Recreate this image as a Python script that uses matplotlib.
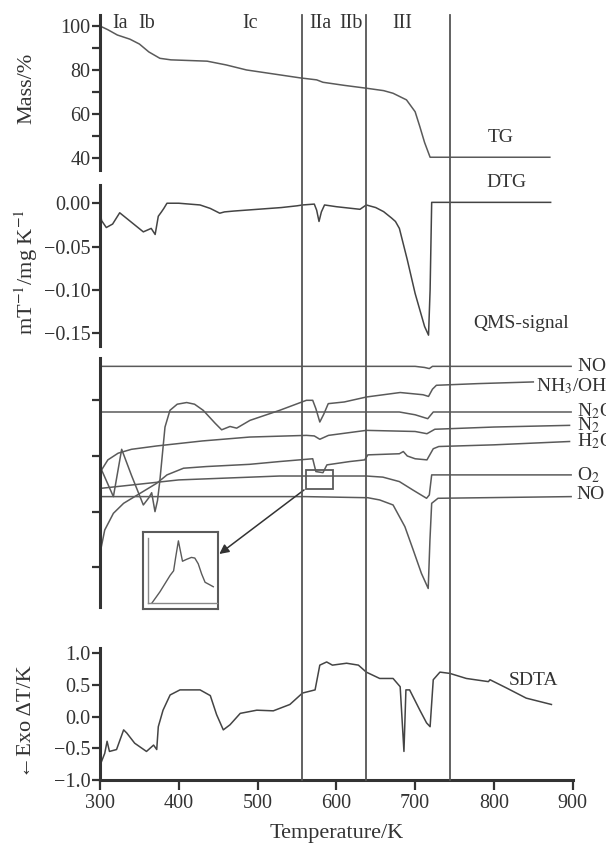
import matplotlib
matplotlib.use("Agg")
import matplotlib.pyplot as plt
from matplotlib.lines import Line2D
from matplotlib.patches import Rectangle
from matplotlib.transforms import blended_transform_factory

plt.rcParams['font.family'] = ['Liberation Serif', 'DejaVu Serif']
plt.rcParams['mathtext.fontset'] = 'stix'

# ---- data ------------------------------------------------------------------
tg_T = [300, 310, 322, 338, 350, 362, 376, 390, 436, 460, 486, 520, 554, 575,
        583, 610, 638, 660, 672, 689, 700, 706, 712, 719, 871]
tg_mass = [100, 98.3, 95.9, 94.0, 91.8, 88.2, 85.3, 84.6, 84.0, 82.3, 80.0,
           78.2, 76.4, 75.5, 74.4, 73.0, 71.7, 70.6, 69.4, 66.4, 61.0, 54.2,
           47.0, 40.3, 40.3]

dtg_T = [300, 302, 308, 316, 325, 340, 355, 365, 370, 374, 378, 381, 385, 400,
         427, 440, 452, 458, 470, 500, 530, 550, 557, 572, 575, 578, 581, 585,
         600, 630, 638, 650, 660, 670, 675, 680, 690, 700, 712, 717, 719, 721,
         872]
dtg = [-0.008, -0.020, -0.028, -0.024, -0.011, -0.022, -0.033, -0.029, -0.036,
       -0.015, -0.010, -0.006, 0.000, 0.000, -0.002, -0.006, -0.0115, -0.010,
       -0.009, -0.007, -0.005, -0.003, -0.002, -0.001, -0.008, -0.021, -0.010,
       -0.002, -0.004, -0.007, -0.002, -0.005, -0.0097, -0.017, -0.021, -0.029,
       -0.065, -0.104, -0.142, -0.152, -0.10, 0.001, 0.001]

# QMS signals (arbitrary units)
no2_T = [300, 700, 712, 718, 722, 898]
no2 = [4.61, 4.61, 4.59, 4.57, 4.61, 4.61]

nh3_T = [302, 317, 327.5, 340, 355, 362, 365.6, 369.8, 373, 376, 382.5, 388.8,
         398, 410, 420, 431, 446, 454.4, 465, 473.5, 490.4, 528, 562, 570, 574,
         579, 584, 589.7, 610, 638.4, 681, 710, 717, 722, 727, 780, 850]
nh3 = [2.75, 2.27, 3.12, 2.65, 2.12, 2.25, 2.34, 2.0, 2.2, 2.56, 3.52, 3.82,
       3.93, 3.96, 3.93, 3.82, 3.59, 3.47, 3.53, 3.50, 3.64, 3.82, 4.0, 4.0,
       3.85, 3.61, 3.75, 3.94, 3.97, 4.06, 4.14, 4.10, 4.07, 4.2, 4.27, 4.30,
       4.33]

n2o_T = [300, 680, 700, 716, 723, 898]
n2o = [3.79, 3.79, 3.74, 3.67, 3.79, 3.79]

n2_T = [302, 310, 323, 340, 372, 430, 490, 562, 572, 579, 590, 638, 700, 715,
        725, 800, 896]
n2 = [2.75, 2.93, 3.05, 3.12, 3.18, 3.27, 3.34, 3.37, 3.36, 3.30, 3.37, 3.46,
      3.44, 3.40, 3.48, 3.52, 3.55]

h2o_T = [300, 306, 317, 330, 351, 372, 385, 406, 435, 490, 528, 570, 574, 583,
         588, 617, 636, 640, 680, 685, 690, 700, 715, 723, 730, 800, 896]
h2o = [1.25, 1.67, 1.97, 2.15, 2.33, 2.51, 2.66, 2.78, 2.81, 2.85, 2.90, 2.95,
       2.72, 2.70, 2.84, 2.90, 2.93, 3.02, 3.04, 3.08, 3.00, 2.95, 2.93, 3.13,
       3.17, 3.20, 3.26]

o2_T = [302, 400, 528, 638, 659, 680, 697, 714.5, 718, 721, 898]
o2 = [2.42, 2.57, 2.64, 2.64, 2.62, 2.54, 2.39, 2.24, 2.30, 2.66, 2.66]

no_T = [300, 560, 640, 655, 672, 687, 697.6, 708, 716.6, 718.8, 721, 729, 898]
no = [2.27, 2.27, 2.25, 2.21, 2.12, 1.73, 1.31, 0.89, 0.62, 1.49, 2.15, 2.24,
      2.27]

qms_names = ['NO$_2$', 'NH$_3$/OH', 'N$_2$O', 'N$_2$', 'H$_2$O', 'O$_2$', 'NO']
qms_label_v = [4.61, 4.26, 3.80, 3.55, 3.26, 2.66, 2.30]

# zoomed detail (inset), relative units
ins_x = [0.05, 0.17, 0.32, 0.37, 0.40, 0.44, 0.46, 0.50, 0.56, 0.63, 0.68,
         0.73, 0.78, 0.83, 0.90, 0.95]
ins_y = [0.0, 0.18, 0.44, 0.51, 0.72, 0.98, 0.87, 0.66, 0.69, 0.72, 0.71,
         0.62, 0.46, 0.33, 0.29, 0.26]

sdta_T = [300, 306, 309, 312, 321, 330, 334, 344, 359, 368, 372, 374, 380,
          389, 401.5, 427, 440, 448, 456.5, 465, 478, 499, 520, 541, 557, 573,
          579, 587.7, 595, 613, 628, 638, 655, 672, 681, 685.8, 688.3, 693,
          706, 714.5, 719, 723, 731.5, 744, 765, 793, 795, 816, 841, 873]
sdta = [-0.77, -0.58, -0.39, -0.55, -0.52, -0.21, -0.26, -0.42, -0.55, -0.45,
        -0.52, -0.16, 0.10, 0.34, 0.42, 0.42, 0.33, 0.03, -0.21, -0.13, 0.05,
        0.10, 0.09, 0.19, 0.37, 0.42, 0.81, 0.86, 0.81, 0.84, 0.81, 0.70, 0.60,
        0.60, 0.47, -0.55, 0.42, 0.42, 0.10, -0.10, -0.16, 0.58, 0.70, 0.68,
        0.60, 0.55, 0.58, 0.45, 0.29, 0.19]

stage_T = [557, 638, 744]
stage_names = ['Ia', 'Ib', 'Ic', 'IIa', 'IIb', 'III']
stage_name_T = [326, 359, 491, 580, 618, 684]

# ---- layout -----------------------------------------------------------------
W, H = 606, 844
LINE = '#5a5a5a'
DARK = '#333333'


def rect(x0, y0, x1, y1):
    return [x0 / W, 1 - y1 / H, (x1 - x0) / W, (y1 - y0) / H]


fig = plt.figure(figsize=(W / 100, H / 100), dpi=100)
ax_tg = fig.add_axes(rect(100, 15, 572.7, 170))
ax_dtg = fig.add_axes(rect(100, 185, 572.7, 346))
ax_qms = fig.add_axes(rect(100, 358, 572.7, 607))
ax_sdta = fig.add_axes(rect(100, 648, 572.7, 780))

for ax in (ax_tg, ax_dtg, ax_qms, ax_sdta):
    ax.set_xlim(300, 900)
    ax.patch.set_visible(False)
    for s in ('top', 'right'):
        ax.spines[s].set_visible(False)
    ax.spines['left'].set_linewidth(2.2)
    ax.spines['left'].set_color(DARK)
    ax.tick_params(axis='y', which='major', direction='out', length=6,
                   width=1.6, color=DARK, labelsize=14.5, labelcolor=DARK,
                   pad=1)
    ax.tick_params(axis='y', which='minor', direction='out', length=6,
                   width=1.6, color=DARK)
for ax in (ax_tg, ax_dtg, ax_qms):
    ax.spines['bottom'].set_visible(False)
    ax.set_xticks([])

# TG
ax_tg.plot(tg_T, tg_mass, color=LINE, lw=1.1)
ax_tg.set_ylim(34.5, 105)
ax_tg.set_yticks([40, 60, 80, 100])
ax_tg.set_yticks([50, 70, 90], minor=True)
ax_tg.text(808, 47.4, 'TG', ha='center', va='baseline', fontsize=14,
           color=DARK)
for name, t in zip(stage_names, stage_name_T):
    ax_tg.text(t, 99.0, name, ha='center', va='baseline', fontsize=14.5,
               color=DARK)

# DTG
ax_dtg.plot(dtg_T, dtg, color='#444444', lw=1.1)
ax_dtg.set_ylim(-0.1645, 0.021)
ax_dtg.set_yticks([0.0, -0.05, -0.10, -0.15])
ax_dtg.set_yticklabels(['0.00', '\u22120.05', '\u22120.10', '\u22120.15'])
ax_dtg.text(816, 0.0192, 'DTG', ha='center', va='baseline', fontsize=14,
            color=DARK, clip_on=False)
ax_dtg.text(835, -0.144, 'QMS-signal', ha='center', va='baseline',
            fontsize=14, color=DARK, clip_on=False)

# QMS
series = [(no2_T, no2), (nh3_T, nh3), (n2o_T, n2o), (n2_T, n2),
          (h2o_T, h2o), (o2_T, o2), (no_T, no)]
for t, v in series:
    ax_qms.plot(t, v, color=LINE, lw=1.1)
ax_qms.set_ylim(0.287, 4.76)
ax_qms.set_yticks([1, 2, 3, 4])
ax_qms.set_yticklabels([])
for i, (name, v) in enumerate(zip(qms_names, qms_label_v)):
    x = 853 if i == 1 else 905
    ax_qms.text(x, v, name, ha='left', va='center', fontsize=14,
                color=DARK, clip_on=False)

# box marking the zoomed region and arrow to the inset
ax_qms.add_patch(Rectangle((562, 2.41), 34, 0.34, fill=False,
                           edgecolor=LINE, lw=1.3))
ax_qms.annotate('', xy=(219.3 / W, 1 - 554 / H), xycoords='figure fraction',
                xytext=(559, 2.39), textcoords='data',
                arrowprops=dict(arrowstyle='-|>', color='#333333', lw=1.1,
                                mutation_scale=14, shrinkA=0, shrinkB=0))

ax_box = fig.add_axes(rect(142.7, 532.3, 218.3, 609.3))
ax_box.set_xticks([])
ax_box.set_yticks([])
for s in ax_box.spines.values():
    s.set_color(LINE)
    s.set_linewidth(1.5)
ax_ins = fig.add_axes(rect(148.3, 538.3, 216.7, 603.3))
ax_ins.patch.set_visible(False)
ax_ins.plot(ins_x, ins_y, color=LINE, lw=1.0)
ax_ins.set_xlim(0, 1)
ax_ins.set_ylim(0, 1.02)
ax_ins.set_xticks([])
ax_ins.set_yticks([])
for s in ('top', 'right'):
    ax_ins.spines[s].set_visible(False)
for s in ('left', 'bottom'):
    ax_ins.spines[s].set_color('#888888')
    ax_ins.spines[s].set_linewidth(1.0)

# SDTA
ax_sdta.plot(sdta_T, sdta, color='#444444', lw=1.1)
ax_sdta.set_ylim(-1.0, 1.08)
ax_sdta.set_yticks([-1.0, -0.5, 0.0, 0.5, 1.0])
ax_sdta.set_yticklabels(['\u22121.0', '\u22120.5', '0.0', '0.5', '1.0'])
ax_sdta.spines['bottom'].set_linewidth(2.2)
ax_sdta.spines['bottom'].set_color(DARK)
ax_sdta.set_xticks([300, 400, 500, 600, 700, 800, 900])
ax_sdta.tick_params(axis='x', direction='out', length=7, width=1.6,
                    color=DARK, labelsize=14.5, labelcolor=DARK, pad=3)
ax_sdta.text(850, 0.5, 'SDTA', ha='center', va='baseline', fontsize=14,
             color=DARK)
ax_sdta.set_xlabel('Temperature/K', fontsize=16, color=DARK, labelpad=8)

# stage boundaries running through all panels
tr = blended_transform_factory(ax_sdta.transData, fig.transFigure)
for t in stage_T:
    fig.add_artist(Line2D([t, t], [1 - 780 / H, 1 - 15 / H], transform=tr,
                          color='#555555', lw=1.3))

# y labels
fig.text(27 / W, 1 - 88 / H, 'Mass/%', rotation=90, ha='center',
         va='center', fontsize=16, color=DARK)
fig.text(26 / W, 1 - 272 / H, r'mT$^{-1}$/mg K$^{-1}$', rotation=90,
         ha='center', va='center', fontsize=16, color=DARK)
fig.text(27 / W, 1 - 722 / H, '\u2190Exo \u0394T/K', rotation=90,
         ha='center', va='center', fontsize=16, color=DARK)

fig.savefig('out.png', dpi=100)
